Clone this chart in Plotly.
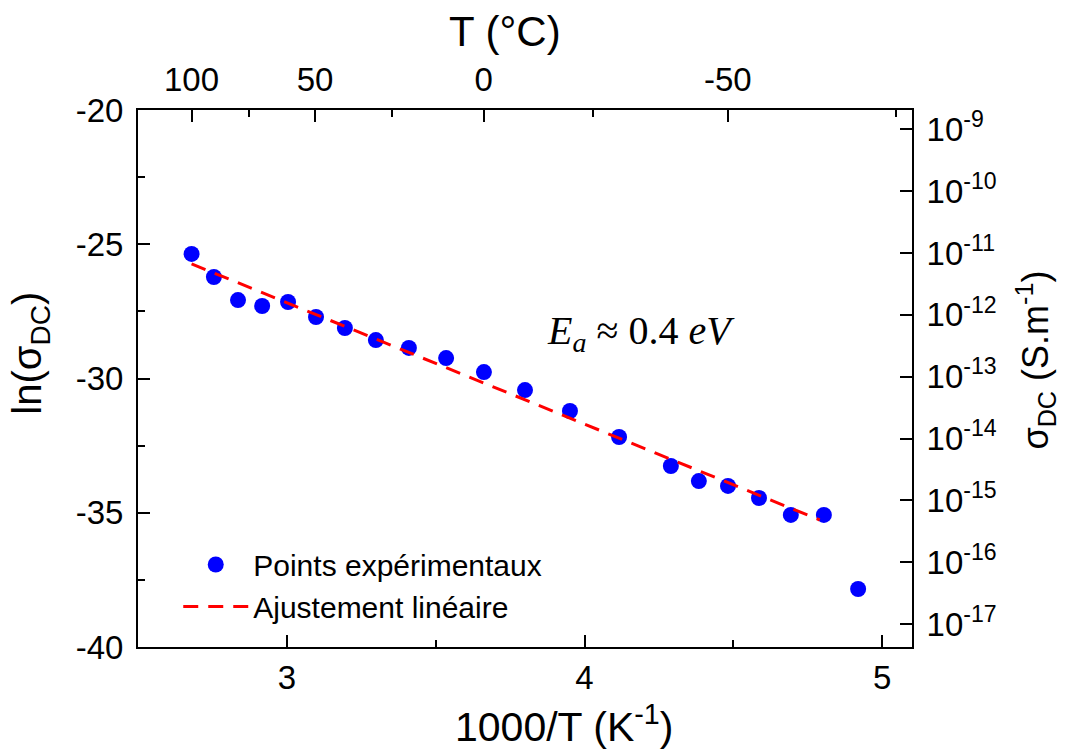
import math
import plotly.graph_objects as go

# Data
inv_T = [2.68, 2.755, 2.836, 2.917, 3.004, 3.098, 3.195, 3.299, 3.410, 3.535,
         3.662, 3.800, 3.951, 4.116, 4.290, 4.384, 4.482, 4.586, 4.693, 4.804, 4.919]
ln_sigma = [-25.36, -26.22, -27.08, -27.30, -27.15, -27.71, -28.12, -28.57, -28.86, -29.24,
            -29.76, -30.43, -31.21, -32.18, -33.26, -33.82, -34.00, -34.45, -35.08, -35.08, -37.84]

fit_x = [2.68, 4.79]
fit_y = [-25.73, -35.27]

temp_major = [100, 50, 0, -50]
temp_minor = [75, 25, -25, -75]
decades = [-9, -10, -11, -12, -13, -14, -15, -16, -17]

x_range = [2.5, 5.1]
y_range = [-40, -20]

font_sans = "Arial, Liberation Sans, sans-serif"

fig = go.Figure()
fig.add_trace(go.Scatter(
    x=inv_T, y=ln_sigma, mode="markers", name="Points expérimentaux",
    marker=dict(color="#0000FF", size=16, line=dict(width=0)),
))
fig.add_trace(go.Scatter(
    x=fit_x, y=fit_y, mode="lines", name="Ajustement linéaire",
    line=dict(color="#FF0000", width=3, dash="15px,10px"),
))
# invisible trace to carry the secondary (top / right) axes
fig.add_trace(go.Scatter(
    x=fit_x, y=fit_y, mode="lines", xaxis="x2", yaxis="y2",
    line=dict(width=0), opacity=0, showlegend=False, hoverinfo="skip",
))

tick_font = dict(family=font_sans, size=33, color="black")

axis_common = dict(
    showline=True, linecolor="black", linewidth=2,
    ticks="inside", ticklen=12, tickwidth=2, tickcolor="black",
    showgrid=False, zeroline=False, tickfont=tick_font, automargin=False,
)
minor_common = dict(ticks="inside", ticklen=7, tickwidth=2, tickcolor="black")

fig.update_layout(
    width=1066, height=754,
    paper_bgcolor="white", plot_bgcolor="white",
    margin=dict(l=138, r=154, t=110, b=107),
    showlegend=True,
    legend=dict(
        x=0.052, y=0.202, xanchor="left", yanchor="top",
        font=dict(family=font_sans, size=30, color="black"),
        bgcolor="rgba(0,0,0,0)", itemwidth=65, tracegroupgap=0,
    ),
    xaxis=dict(
        range=x_range, tickvals=[3, 4, 5], ticktext=["3", "4", "5"],
        minor=dict(dtick=0.5, tick0=2.5, **minor_common),
        **axis_common,
    ),
    yaxis=dict(
        range=y_range, tickvals=[-20, -25, -30, -35, -40],
        ticktext=["-20", "-25", "-30", "-35", "-40"],
        minor=dict(dtick=2.5, tick0=-40, **minor_common),
        ticklabelstandoff=6,
        **axis_common,
    ),
    xaxis2=dict(
        range=x_range, overlaying="x", side="top", anchor="y",
        tickmode="array",
        tickvals=[1000.0 / (t + 273.15) for t in temp_major],
        ticktext=[str(t) for t in temp_major],
        minor=dict(tickmode="array", tickvals=[1000.0 / (t + 273.15) for t in temp_minor],
                   **minor_common),
        ticklabelstandoff=4,
        **axis_common,
    ),
    yaxis2=dict(
        range=y_range, overlaying="y", side="right", anchor="x",
        tickmode="array",
        tickvals=[d * math.log(10) for d in decades],
        ticktext=[f"10<sup>{d}</sup>" for d in decades],
        ticklabelstandoff=6,
        **axis_common,
    ),
)

# Axis titles placed as annotations (paper coordinates)
titles = [
    dict(text="1000/T (K<sup>-1</sup>)", x=0.551, y=-0.143, angle=0, size=41),
    dict(text="T (°C)", x=0.4742, y=1.147, angle=0, size=42),
    dict(text="ln(σ<sub>DC</sub>)", x=-0.139, y=0.547, angle=-90, size=40),
    dict(text="σ<sub>DC</sub> (S.m<sup>-1</sup>)", x=1.160, y=0.535, angle=-90, size=36),
]
for t in titles:
    fig.add_annotation(
        text=t["text"], x=t["x"], y=t["y"], xref="paper", yref="paper",
        xanchor="center", yanchor="middle", showarrow=False, textangle=t["angle"],
        font=dict(family=font_sans, size=t["size"], color="black"),
    )

fig.add_annotation(
    x=4.19, y=-28.3, xref="x", yref="y", showarrow=False,
    xanchor="center", yanchor="middle",
    text="<i>E</i><sub><i>a</i></sub> ≈ 0.4 <i>eV</i>",
    font=dict(family="Liberation Serif, Times New Roman, serif", size=40, color="black"),
)

fig.write_html(
    "out.html",
    config={"displayModeBar": False},
    post_script="document.body.style.margin='0';",
)
